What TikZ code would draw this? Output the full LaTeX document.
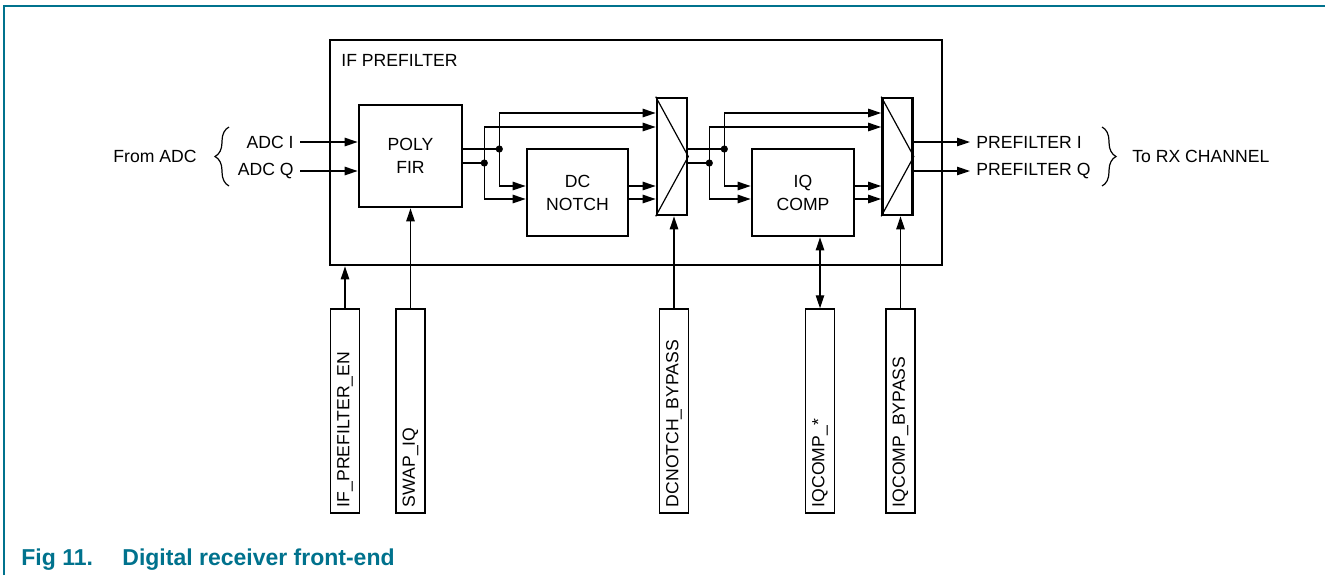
\documentclass[tikz,border=0pt]{standalone}
\usepackage{fontspec}
\setmainfont{Liberation Sans}
\usetikzlibrary{arrows.meta,decorations.pathreplacing}
\definecolor{nxpteal}{RGB}{0,114,141}
\newcommand{\lblfont}{\fontsize{8.8}{11.5}\selectfont}
\newcommand{\capfont}{\fontsize{11.5}{13}\selectfont\bfseries}
\tikzset{
  wire/.style={line width=0.65pt},
  arr/.style={-{Triangle[length=6.5pt,width=4.2pt]},wire},
  darr/.style={{Triangle[length=6.5pt,width=4.2pt]}-{Triangle[length=6.5pt,width=4.2pt]},wire},
  blk/.style={draw,line width=1.3pt,inner sep=0pt,align=center,font=\lblfont},
  muxbox/.style={draw,line width=1.3pt,inner sep=0pt,minimum width=15pt,minimum height=58.5pt},
  ctrl/.style={draw,line width=0.7pt,rotate=90,minimum height=14.5pt,text width=96pt,
               inner xsep=3pt,inner ysep=0pt,align=left,font=\lblfont},
  lbl/.style={font=\lblfont,inner sep=3pt},
  capt/.style={font=\capfont,text=nxpteal,inner sep=0pt},
  brc/.style={decorate,decoration={brace,amplitude=7pt},line width=0.6pt},
}

\begin{document}
\begin{tikzpicture}[x=0.5pt,y=-0.5pt]
  \useasboundingbox (0,0) rectangle (1325,575);
  % page frame
  \draw[nxpteal,line width=1pt] (4,575) -- (4,6) -- (1325,6);

  % blocks
  \node[blk,minimum width=306pt,minimum height=112.5pt] (prefilter) at (636,152.5) {};
  \node[font=\lblfont,anchor=base west,inner sep=0pt] (pftitle) at (341,66) {IF PREFILTER};
  \node[blk,minimum width=51.5pt,minimum height=51pt] (fir) at (410.5,156) {POLY\\FIR};
  \node[blk,minimum width=50.5pt,minimum height=43.5pt] (notch) at (577.5,192.5) {DC\\NOTCH};
  \node[blk,minimum width=51pt,minimum height=43.5pt] (iqc) at (803,192.5) {IQ\\COMP};
  \node[muxbox] (muxa) at (672,156.5) {};
  \node[muxbox] (muxb) at (897.5,156.5) {};
  \foreach \m in {muxa,muxb}
    \draw[line width=0.6pt] (\m.north west) -- (\m.east) -- (\m.south west);

  % inputs
  \node[lbl,anchor=east] (adci) at (300,142) {ADC I};
  \node[lbl,anchor=east] (adcq) at (300,171) {ADC Q};
  \draw[arr] (adci.east) -- (adci.east -| fir.west);
  \draw[arr] (adcq.east) -- (adcq.east -| fir.west);
  \draw[brc] (229,186) -- (229,127);
  \node[lbl,anchor=east] (fromadc) at (203,156) {From ADC};

  % two bypassable stages
  \foreach \src/\blk/\mux in {fir/notch/muxa,muxa/iqc/muxb}{
    \path (\src.east |- 0,149) ++(18pt,0) coordinate (hi);
    \path (\src.east |- 0,163) ++(10.5pt,0) coordinate (lo);
    \draw[wire] (\src.east |- hi) -- (hi);
    \draw[wire] (\src.east |- lo) -- (lo);
    \draw[arr] (hi) |- (\mux.west |- 0,113);
    \draw[arr] (lo) |- (\mux.west |- 0,127);
    \draw[arr] (hi) |- (\blk.west |- 0,186);
    \draw[arr] (lo) |- (\blk.west |- 0,199);
    \draw[arr] (\blk.east |- 0,186) -- (\mux.west |- 0,186);
    \draw[arr] (\blk.east |- 0,199) -- (\mux.west |- 0,199);
    \fill (hi) circle (1.8pt) (lo) circle (1.8pt);
  }

  % outputs
  \node[lbl,anchor=west] (pfi) at (970,142) {PREFILTER I};
  \node[lbl,anchor=west] (pfq) at (970,171) {PREFILTER Q};
  \draw[arr] (muxb.east |- pfi.west) -- (pfi.west);
  \draw[arr] (muxb.east |- pfq.west) -- (pfq.west);
  \draw[brc] (1102,127) -- (1102,186);
  \node[lbl,anchor=west] (torx) at (1126,156) {To RX CHANNEL};

  % control registers
  \foreach \n/\x/\t in {cb1/345/IF\_PREFILTER\_EN, cb2/410.5/SWAP\_IQ,
                        cb3/674/DCNOTCH\_BYPASS, cb4/820/IQCOMP\_*,
                        cb5/900.5/IQCOMP\_BYPASS}
    \node[ctrl] (\n) at (\x,411) {\t};
  \draw[arr] (cb1.east) -- (cb1.east |- prefilter.south);
  \draw[arr] (cb2.east) -- (cb2.east |- fir.south);
  \draw[arr] (cb3.east) -- (cb3.east |- muxa.south);
  \draw[darr] (cb4.east) -- (cb4.east |- iqc.south);
  \draw[arr] (cb5.east) -- (cb5.east |- muxb.south);

  % caption
  \node[capt,anchor=base west] (fignum) at (21,565) {Fig 11.};
  \node[capt,anchor=base west] (figtitle) at (122,565) {Digital receiver front-end};
\end{tikzpicture}
\end{document}
